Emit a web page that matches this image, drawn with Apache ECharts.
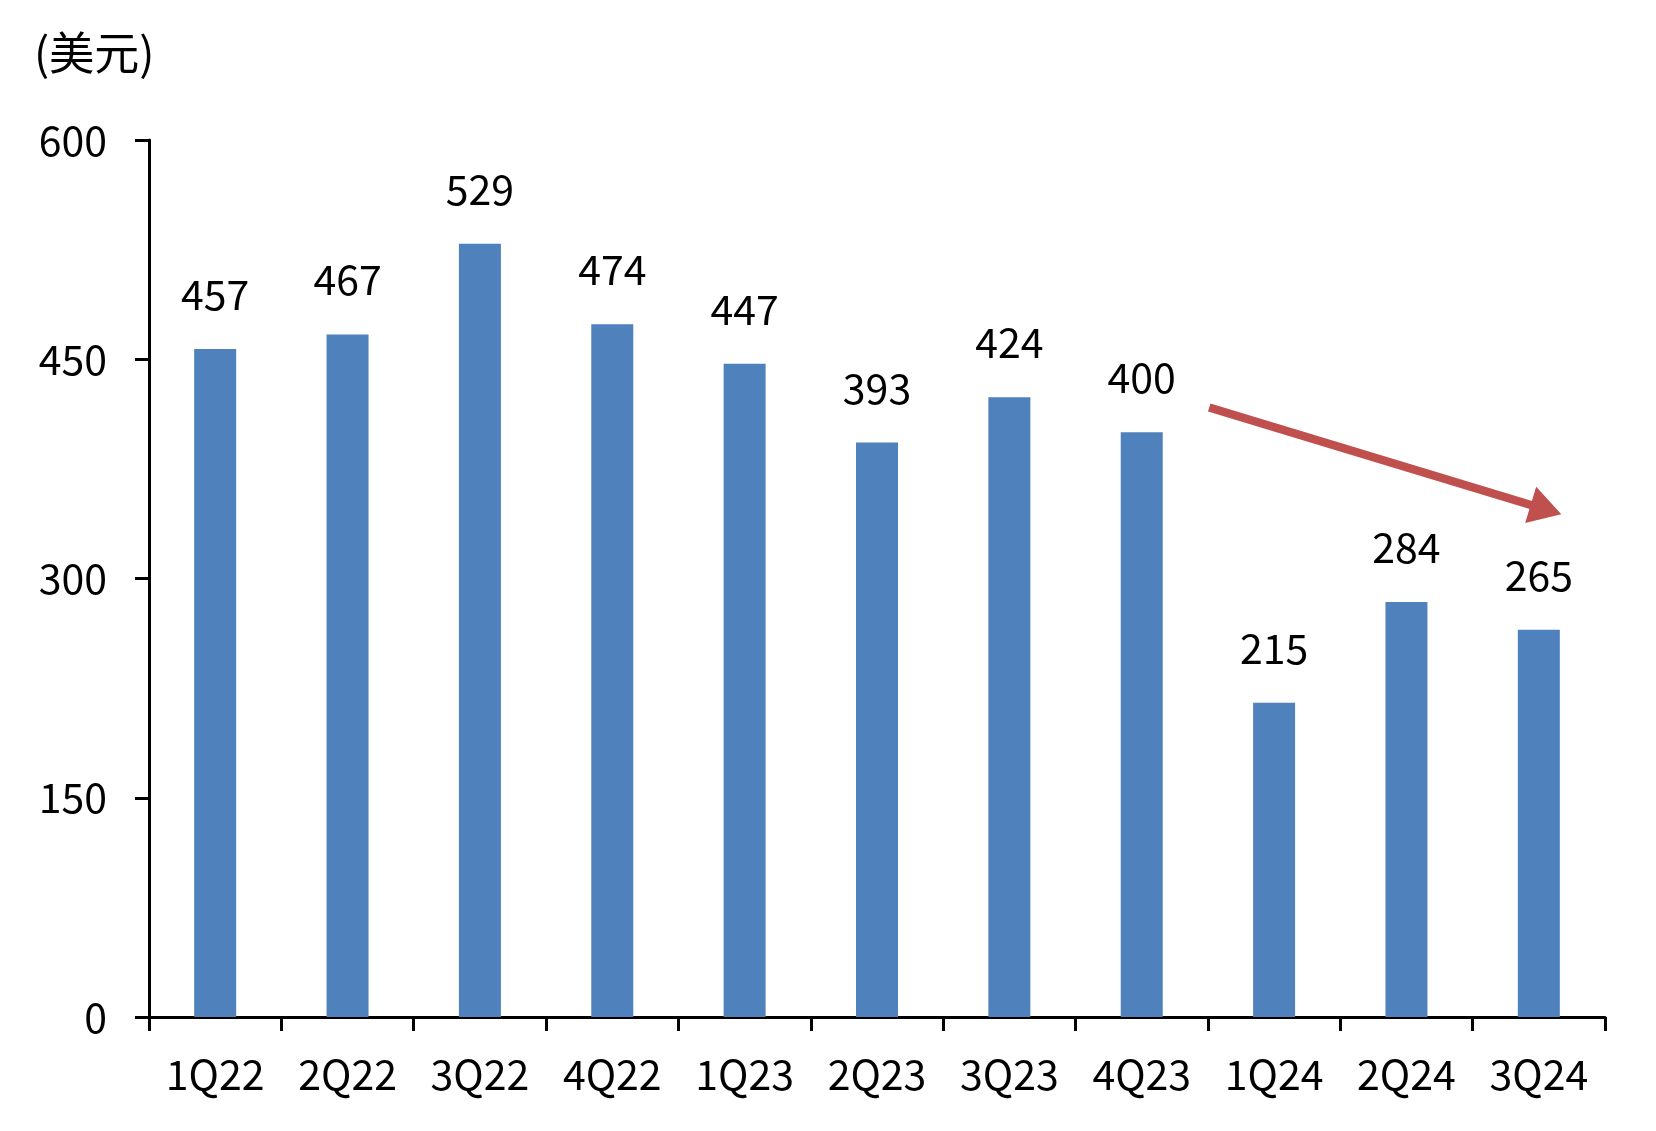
<!DOCTYPE html>
<html><head><meta charset="utf-8">
<script src="https://cdn.jsdelivr.net/npm/echarts@6/dist/echarts.min.js"></script>
<style>html,body{margin:0;padding:0;background:#fff}#c{width:1656px;height:1131px}</style>
</head><body><div id="c"></div>
<script>
const categories = ['1Q22','2Q22','3Q22','4Q22','1Q23','2Q23','3Q23','4Q23','1Q24','2Q24','3Q24'];
const values = [457,467,529,474,447,393,424,400,215,284,265];
const yTicks = {min:0, max:600, interval:150};
const unitLabel = '(美元)';
const arrowFrom = [7.51, 417];
const arrowTo = [10.17, 344];

const FONT = '"Noto Sans CJK KR","Noto Sans",sans-serif';
const chart = echarts.init(document.getElementById('c'));
chart.setOption({
  animation:false,
  backgroundColor:'#fff',
  grid:{left:149,right:51,top:140,bottom:114,containLabel:false},
  xAxis:{type:'category',data:categories,
    axisLine:{lineStyle:{color:'#000',width:3}},
    axisTick:{show:true,length:14,lineStyle:{color:'#000',width:3},alignWithLabel:false},
    axisLabel:{color:'#000',fontSize:41,fontFamily:FONT,margin:37}},
  yAxis:{type:'value',min:yTicks.min,max:yTicks.max,interval:yTicks.interval,
    splitLine:{show:false},
    axisLine:{show:true,lineStyle:{color:'#000',width:3}},
    axisTick:{show:true,length:14,lineStyle:{color:'#000',width:3}},
    axisLabel:{color:'#000',fontSize:41,fontFamily:FONT,margin:42}},
  series:[{type:'bar',data:values,barWidth:42,
    itemStyle:{color:'#4F81BD'},
    label:{show:true,position:'top',distance:34,color:'#000',fontSize:41,fontFamily:FONT}}]
});
function toPx(pt){
  const i = Math.floor(pt[0]), f = pt[0]-i;
  const a = chart.convertToPixel({gridIndex:0}, [i, pt[1]]);
  const b = chart.convertToPixel({gridIndex:0}, [i+1 < categories.length ? i+1 : i-1, pt[1]]);
  const step = (i+1 < categories.length) ? (b[0]-a[0]) : (a[0]-b[0]);
  return [a[0] + f*step, a[1]];
}
const p1 = toPx(arrowFrom);
const p2 = toPx(arrowTo);
const ang = Math.atan2(p2[1]-p1[1], p2[0]-p1[0]);
const headLen = 32, headW = 19;
const base = [p2[0]-headLen*Math.cos(ang), p2[1]-headLen*Math.sin(ang)];
const nx = -Math.sin(ang), ny = Math.cos(ang);
chart.setOption({graphic:[
  {type:'text',left:34,top:30,style:{text:unitLabel,fontSize:45,fontFamily:FONT,fill:'#000'}},
  {type:'line',shape:{x1:p1[0],y1:p1[1],x2:base[0]+2*Math.cos(ang),y2:base[1]+2*Math.sin(ang)},style:{stroke:'#C0504D',lineWidth:8.5}},
  {type:'polygon',shape:{points:[[p2[0],p2[1]],[base[0]+nx*headW,base[1]+ny*headW],[base[0]-nx*headW,base[1]-ny*headW]]},style:{fill:'#C0504D'}}
]});
</script></body></html>
